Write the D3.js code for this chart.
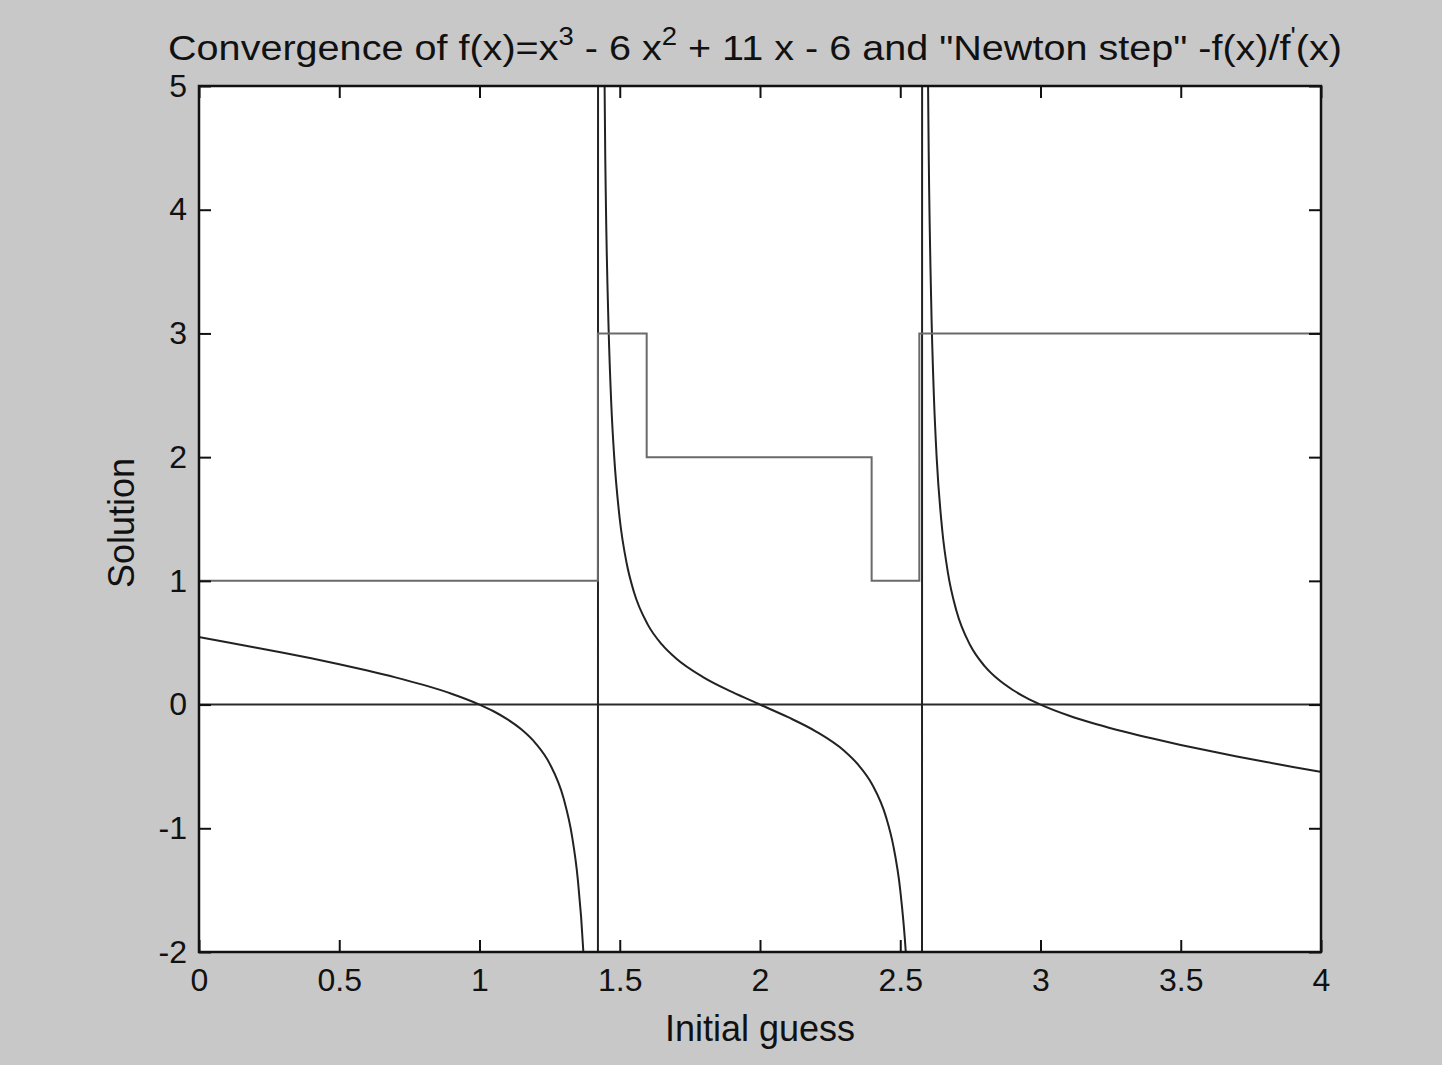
<!DOCTYPE html>
<html>
<head>
<meta charset="utf-8">
<script src="https://cdn.jsdelivr.net/npm/d3@7"></script>
<style>
  body { margin: 0; background: #c8c8c8; }
  text { font-family: "Liberation Sans", Arial, sans-serif; fill: #111; }
</style>
</head>
<body>
<script>
// Newton step -f(x)/f'(x) (values past the box get clipped)
var newtonX = [0, 0.1, 0.2, 0.3, 0.4, 0.5, 0.6, 0.7, 0.8, 0.9, 1.0, 1.05, 1.1, 1.15, 1.2, 1.25, 1.3, 1.33, 1.35, 1.37, 1.38, 1.39, 1.40, 1.41, 1.42,
    1.425, 1.43, 1.435, 1.44, 1.45, 1.46, 1.47, 1.48, 1.5, 1.525, 1.55, 1.6, 1.65, 1.7, 1.8, 1.9, 2.0, 2.1, 2.2, 2.3, 2.35, 2.4, 2.45, 2.475, 2.5, 2.52, 2.53, 2.54, 2.55, 2.56, 2.565, 2.57, 2.575,
    2.58, 2.59, 2.60, 2.61, 2.62, 2.63, 2.65, 2.67, 2.70, 2.75, 2.80, 2.85, 2.90, 2.95, 3.0, 3.1, 3.2, 3.3, 3.4, 3.5, 3.6, 3.7, 3.8, 3.9, 4.0];
var newtonY = [0.545, 0.504, 0.462, 0.419, 0.374, 0.326, 0.275, 0.220, 0.159, 0.088, 0, -0.054, -0.120, -0.202, -0.313, -0.477, -0.760, -1.065, -1.403, -1.99, -2.49, -3.29, -4.80, -8.68, -41.8,
    47.4, 15.2, 9.09, 6.49, 4.15, 3.06, 2.42, 2.01, 1.50, 1.138, 0.914, 0.646, 0.486, 0.374, 0.218, 0.102, 0, -0.102, -0.218, -0.374, -0.486, -0.646, -0.914, -1.138, -1.50, -2.01, -2.42, -3.06, -4.15, -6.49, -9.09, -15.2, -47.4,
    41.8, 8.68, 4.80, 3.29, 2.49, 1.99, 1.403, 1.065, 0.760, 0.477, 0.313, 0.202, 0.120, 0.054, 0, -0.088, -0.159, -0.220, -0.275, -0.326, -0.374, -0.419, -0.462, -0.504, -0.545];

// root reached from each initial guess (step changes)
var solutionX = [0, 1.422, 1.596, 2.398, 2.568, 4];
var solutionY = [1, 3, 2, 1, 3, 3];

var zeroX = [0, 4];
var zeroY = [0, 0];

var xTicks = [0, 0.5, 1, 1.5, 2, 2.5, 3, 3.5, 4];
var xTickLabels = ["0", "0.5", "1", "1.5", "2", "2.5", "3", "3.5", "4"];
var yTicks = [-2, -1, 0, 1, 2, 3, 4, 5];
var yTickLabels = ["-2", "-1", "0", "1", "2", "3", "4", "5"];

var width = 1442, height = 1065;
var boxLeft = 199, boxRight = 1321, boxTop = 86, boxBottom = 952;

var svg = d3.select("body")
    .append("svg")
    .attr("width", width)
    .attr("height", height);

svg.append("rect")
    .attr("width", width)
    .attr("height", height)
    .attr("fill", "#c8c8c8");

var x = d3.scaleLinear().domain([0, 4]).range([boxLeft, boxRight]);
var y = d3.scaleLinear().domain([-2, 5]).range([boxBottom, boxTop]);

svg.append("rect")
    .attr("x", boxLeft)
    .attr("y", boxTop)
    .attr("width", boxRight - boxLeft)
    .attr("height", boxBottom - boxTop)
    .attr("fill", "#fff");

svg.append("clipPath")
    .attr("id", "plotclip")
    .append("rect")
    .attr("x", boxLeft)
    .attr("y", boxTop)
    .attr("width", boxRight - boxLeft)
    .attr("height", boxBottom - boxTop);

var plot = svg.append("g").attr("clip-path", "url(#plotclip)");

function pts(xs, ys) {
    return xs.map(function (d, i) { return [d, ys[i]]; });
}

var line = d3.line()
    .x(function (d) { return x(d[0]); })
    .y(function (d) { return y(d[1]); });

plot.append("path")
    .attr("d", line(pts(zeroX, zeroY)))
    .attr("fill", "none")
    .attr("stroke", "#2a2a2a")
    .attr("stroke-width", 2);

plot.append("path")
    .attr("d", line.curve(d3.curveMonotoneX)(pts(newtonX, newtonY)))
    .attr("fill", "none")
    .attr("stroke", "#222")
    .attr("stroke-width", 2);

plot.append("path")
    .attr("d", line.curve(d3.curveStepAfter)(pts(solutionX, solutionY)))
    .attr("fill", "none")
    .attr("stroke", "#6a6a6a")
    .attr("stroke-width", 2);

// axes, ticks pointing inward on all four sides
var tickLen = 12;

svg.append("g")
    .attr("transform", `translate(0, ${boxBottom})`)
    .call(d3.axisBottom(x).tickValues(xTicks).tickSize(-tickLen).tickPadding(16)
        .tickFormat(function (d, i) { return xTickLabels[i]; }));

svg.append("g")
    .attr("transform", `translate(${boxLeft}, 0)`)
    .call(d3.axisLeft(y).tickValues(yTicks).tickSize(-tickLen).tickPadding(12)
        .tickFormat(function (d, i) { return yTickLabels[i]; }));

svg.append("g")
    .attr("transform", `translate(0, ${boxTop})`)
    .call(d3.axisTop(x).tickValues(xTicks).tickSize(-tickLen).tickFormat(""));

svg.append("g")
    .attr("transform", `translate(${boxRight}, 0)`)
    .call(d3.axisRight(y).tickValues(yTicks).tickSize(-tickLen).tickFormat(""));

svg.selectAll(".domain").remove();
svg.selectAll(".tick line").attr("stroke", "#111").attr("stroke-width", 2);
svg.selectAll(".tick text")
    .attr("font-family", "Liberation Sans, Arial, sans-serif")
    .attr("font-size", 32)
    .attr("fill", "#111");

svg.append("rect")
    .attr("x", boxLeft)
    .attr("y", boxTop)
    .attr("width", boxRight - boxLeft)
    .attr("height", boxBottom - boxTop)
    .attr("fill", "none")
    .attr("stroke", "#111")
    .attr("stroke-width", 2.5);

// title with superscripts
var titleMid = (168 + 1342) / 2;
var title = svg.append("text")
    .attr("x", titleMid)
    .attr("y", 60)
    .attr("text-anchor", "middle")
    .attr("font-size", 36);

var parts = [
    ["Convergence of f(x)=x", false],
    ["3", true],
    [" - 6 x", false],
    ["2", true],
    [" + 11 x - 6 and \"Newton step\" -f(x)/f", false],
    ["'", true],
    ["(x)", false]
];
parts.forEach(function (p, i) {
    var prevSup = i > 0 && parts[i - 1][1];
    title.append("tspan")
        .attr("font-size", p[1] ? 25 : 36)
        .attr("dy", p[1] ? -15 : (prevSup ? 15 : 0))
        .text(p[0]);
});

var tw = title.node().getComputedTextLength();
title.attr("transform", `translate(${titleMid}, 0) scale(${1174 / tw}, 1) translate(${-titleMid}, 0)`);

svg.append("text")
    .attr("x", (boxLeft + boxRight) / 2)
    .attr("y", 1041)
    .attr("text-anchor", "middle")
    .attr("font-size", 36)
    .text("Initial guess");

svg.append("text")
    .attr("transform", `translate(134, ${(boxTop + boxBottom) / 2 + 4}) rotate(-90)`)
    .attr("text-anchor", "middle")
    .attr("font-size", 36)
    .text("Solution");
</script>
</body>
</html>
